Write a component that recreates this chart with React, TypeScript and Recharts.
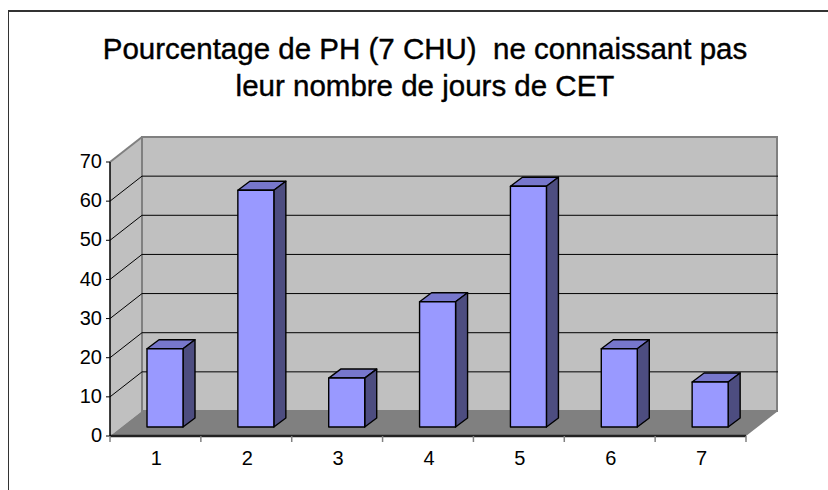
import { BarChart, Bar, XAxis, YAxis, CartesianGrid, usePlotArea } from "recharts";

const categories = ["1", "2", "3", "4", "5", "6", "7"];
const values = [20, 60.5, 12.5, 32, 61.5, 20, 11.5];
const yTicks = [0, 10, 20, 30, 40, 50, 60, 70];

const data = categories.map((category, i) => ({ category, value: values[i] }));

const FONT = "'Liberation Sans', Arial, sans-serif";
// 3D look: how far the back wall sits from the front of the axes
const WALL_DX = 32;
const WALL_DY = -25;
// bars stand partway into the floor
const BAR_DX = 10;
const BAR_DY = -9;
const DEPTH_X = 12;
const DEPTH_Y = -9;

const Walls = () => {
    const plot = usePlotArea();
    if (!plot) return null;
    const { x, y, width, height } = plot;
    const bottom = y + height;
    const right = x + width;
    return (
        <g>
            <polygon
                points={`${x},${y} ${x + WALL_DX},${y + WALL_DY} ${x + WALL_DX},${bottom + WALL_DY} ${x},${bottom}`}
                fill="#c0c0c0"
            />
            <rect
                x={x + WALL_DX}
                y={y + WALL_DY}
                width={width - 1}
                height={height}
                fill="#c0c0c0"
                stroke="#808080"
                strokeWidth={2}
            />
            <polygon
                points={`${x},${bottom} ${right},${bottom} ${right + WALL_DX},${bottom + WALL_DY} ${x + WALL_DX},${bottom + WALL_DY}`}
                fill="#808080"
            />
            <line x1={x} y1={y} x2={x + WALL_DX} y2={y + WALL_DY} stroke="#808080" strokeWidth={2} />
        </g>
    );
};

const GridLine = (props: any) => {
    const { x1, x2, y1, index } = props;
    // walls go in the grid layer, under the lines; first and last lines belong to their outline
    if (index === 0) return <Walls />;
    if (index === yTicks.length - 1) return null;
    return (
        <g>
            <line x1={x1} y1={y1} x2={x1 + WALL_DX} y2={y1 + WALL_DY} stroke="#000" strokeWidth={1} />
            <line x1={x1 + WALL_DX} y1={y1 + WALL_DY} x2={x2 + WALL_DX} y2={y1 + WALL_DY} stroke="#000" strokeWidth={1} />
        </g>
    );
};

const Box = (props: any) => {
    const { x, y, width, height } = props;
    const fx = x + BAR_DX;
    const fy = y + BAR_DY;
    const stroke = { stroke: "#000", strokeWidth: 1.4, strokeLinejoin: "round" as const };
    return (
        <g>
            <polygon
                points={`${fx},${fy} ${fx + DEPTH_X},${fy + DEPTH_Y} ${fx + width + DEPTH_X},${fy + DEPTH_Y} ${fx + width},${fy}`}
                fill="#7777cc"
                {...stroke}
            />
            <polygon
                points={`${fx + width},${fy} ${fx + width + DEPTH_X},${fy + DEPTH_Y} ${fx + width + DEPTH_X},${fy + height + DEPTH_Y} ${fx + width},${fy + height}`}
                fill="#4d4d80"
                {...stroke}
            />
            <rect x={fx} y={fy} width={width} height={height} fill="#9999ff" {...stroke} />
        </g>
    );
};

// ticks sit between the categories, not under them
const CategoryTick = (props: any) => {
    const { x, y, payload, index } = props;
    const half = payload.offset ?? 45.4;
    return (
        <g>
            {index === 0 && <line x1={x - half} y1={y - 8} x2={x - half} y2={y - 2} stroke="#808080" strokeWidth={1.5} />}
            <line x1={x + half} y1={y - 8} x2={x + half} y2={y - 2} stroke="#808080" strokeWidth={1.5} />
            <text x={x + 1} y={y + 21} textAnchor="middle" fontSize={20} fontFamily={FONT} fill="#000">
                {payload.value}
            </text>
        </g>
    );
};

export default function App() {
    return (
        <div
            style={{
                position: "absolute",
                left: 0,
                top: 0,
                width: 828,
                height: 490,
                overflow: "hidden",
                background: "#fff",
            }}
        >
            <div
                style={{
                    position: "absolute",
                    left: 8,
                    top: 10,
                    width: 820,
                    height: 480,
                    borderTop: "2px solid #333",
                    borderLeft: "1px solid #333",
                }}
            />
            <div
                style={{
                    position: "absolute",
                    left: 0,
                    top: 30,
                    width: 850,
                    textAlign: "center",
                    fontFamily: FONT,
                    fontSize: 29.5,
                    lineHeight: "37px",
                    color: "#000",
                    whiteSpace: "pre",
                    WebkitTextStroke: "0.4px #000",
                }}
            >
                {"Pourcentage de PH (7 CHU)  ne connaissant pas\nleur nombre de jours de CET"}
            </div>
            <BarChart
                width={828}
                height={490}
                data={data}
                margin={{ top: 162, right: 82, bottom: 24, left: 60 }}
                style={{ position: "absolute", left: 0, top: 0 }}
            >
                <CartesianGrid horizontal={(p: any) => <GridLine key={p.key} {...p} />} vertical={false} />
                <XAxis
                    dataKey="category"
                    height={30}
                    tickLine={false}
                    axisLine={{ stroke: "#222", strokeWidth: 2.5 }}
                    tick={<CategoryTick />}
                    interval={0}
                />
                <YAxis
                    width={50}
                    domain={[0, 70]}
                    ticks={yTicks}
                    interval={0}
                    tickSize={4}
                    tickMargin={4}
                    tickLine={{ stroke: "#000" }}
                    axisLine={{ stroke: "#000", strokeWidth: 1.5 }}
                    tick={{ fill: "#000", fontSize: 20, fontFamily: FONT, dy: -1 }}
                />
                <Bar dataKey="value" barSize={36} isAnimationActive={false} shape={<Box />} />
            </BarChart>
        </div>
    );
}
